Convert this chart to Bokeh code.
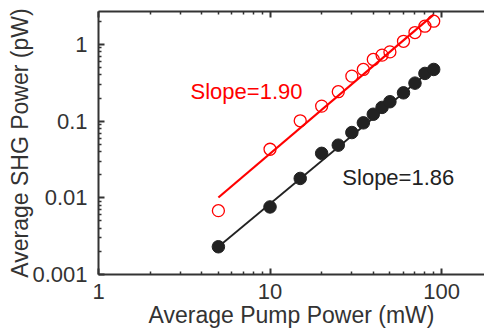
from bokeh.plotting import figure
from bokeh.models import (LogAxis, FixedTicker, CustomJSTickFormatter, Range1d, Label)
from bokeh.embed import file_html
from bokeh.resources import INLINE
import numpy as np

# ---- data ----
pump_mw = [5, 10, 15, 20, 25, 30, 35, 40, 45, 50, 60, 70, 80, 90]
shg_black = [0.0023, 0.0076, 0.0179, 0.038, 0.0486, 0.071, 0.095, 0.123,
             0.151, 0.179, 0.234, 0.313, 0.419, 0.472]
shg_red = [0.0068, 0.043, 0.101, 0.157, 0.242, 0.386, 0.472, 0.637,
           0.726, 0.80, 1.10, 1.43, 1.73, 2.01]
fit_x = [5, 90]
fit_ref_x = 5
red_fit_amp, red_fit_slope = 0.0101, 1.90
black_fit_amp, black_fit_slope = 0.0023, 1.86
x_major = [1, 10, 100]
y_major = [0.001, 0.01, 0.1, 1]
x_minor = [2, 3, 4, 5, 6, 7, 8, 9, 20, 30, 40, 50, 60, 70, 80, 90, 200]
y_minor = [0.002, 0.003, 0.004, 0.005, 0.006, 0.007, 0.008, 0.009,
           0.02, 0.03, 0.04, 0.05, 0.06, 0.07, 0.08, 0.09,
           0.2, 0.3, 0.4, 0.5, 0.6, 0.7, 0.8, 0.9, 2]
x_title = "Average Pump Power (mW)"
y_title = "Average SHG Power (pW)"
label_red = "Slope=1.90"
label_black = "Slope=1.86"

FONT = "Liberation Sans"
AX = "#333333"

p = figure(width=484, height=331, x_axis_type="log", y_axis_type="log",
           x_range=Range1d(1, 178), y_range=Range1d(0.001, 2.69),
           output_backend="svg", toolbar_location=None,
           min_border_left=98, min_border_right=0, min_border_top=11,
           min_border_bottom=57)
p.outline_line_color = None
p.grid.visible = False
p.background_fill_color = "white"

fmt = CustomJSTickFormatter(code="return tick.toString();")

xt = FixedTicker(ticks=x_major, minor_ticks=x_minor)
yt = FixedTicker(ticks=y_major, minor_ticks=y_minor)

for ax, t in ((p.xaxis[0], xt), (p.yaxis[0], yt)):
    ax.ticker = t
    ax.formatter = fmt
    ax.axis_line_color = AX
    ax.axis_line_width = 2
    ax.major_tick_line_color = AX
    ax.minor_tick_line_color = AX
    ax.major_tick_line_width = 2
    ax.minor_tick_line_width = 1.5
    ax.major_tick_in = 6
    ax.major_tick_out = 0
    ax.minor_tick_in = 3
    ax.minor_tick_out = 0
    ax.major_label_text_font = FONT
    ax.major_label_text_font_size = "22px"
    ax.major_label_text_color = AX
    ax.major_label_standoff = 11
    ax.axis_label_text_font = FONT
    ax.axis_label_text_font_size = "23px"
    ax.axis_label_text_font_style = "normal"
    ax.axis_label_text_color = AX

p.xaxis[0].major_label_standoff = 9
p.xaxis[0].axis_label = x_title
p.xaxis[0].axis_label_standoff = 0
p.yaxis[0].axis_label = y_title
p.yaxis[0].axis_label_standoff = -4

top = LogAxis(ticker=FixedTicker(ticks=x_major, minor_ticks=x_minor),
              formatter=CustomJSTickFormatter(code="return '';"),
              axis_line_color=AX, axis_line_width=2,
              major_tick_line_color=AX, minor_tick_line_color=AX,
              major_tick_line_width=2, minor_tick_line_width=1.5,
              major_tick_in=6, major_tick_out=0, minor_tick_in=3, minor_tick_out=0,
              major_label_text_font_size="0px", major_label_standoff=0)
p.add_layout(top, "above")

# fit lines
fx = np.array(fit_x, dtype=float)
red_fit = red_fit_amp * (fx / fit_ref_x) ** red_fit_slope
black_fit = black_fit_amp * (fx / fit_ref_x) ** black_fit_slope
p.line(fx, red_fit, line_color="#ff0000", line_width=2.2)
p.line(fx, black_fit, line_color="#222222", line_width=1.8)

p.scatter(pump_mw, shg_red, size=12, marker="circle", fill_color=None,
          line_color="#ff0000", line_width=1.3)
p.scatter(pump_mw, shg_black, size=12.5, marker="circle", fill_color="#222222",
          line_color="#222222", line_width=1)

p.add_layout(Label(x=3.44, y=0.245, text=label_red, text_font=FONT,
                   text_font_size="22px", text_color="#ff0000",
                   text_baseline="alphabetic"))
p.add_layout(Label(x=26.4, y=0.0184, text=label_black, text_font=FONT,
                   text_font_size="22px", text_color="#222222",
                   text_baseline="alphabetic"))

open("out.html", "w").write(file_html(p, INLINE))
